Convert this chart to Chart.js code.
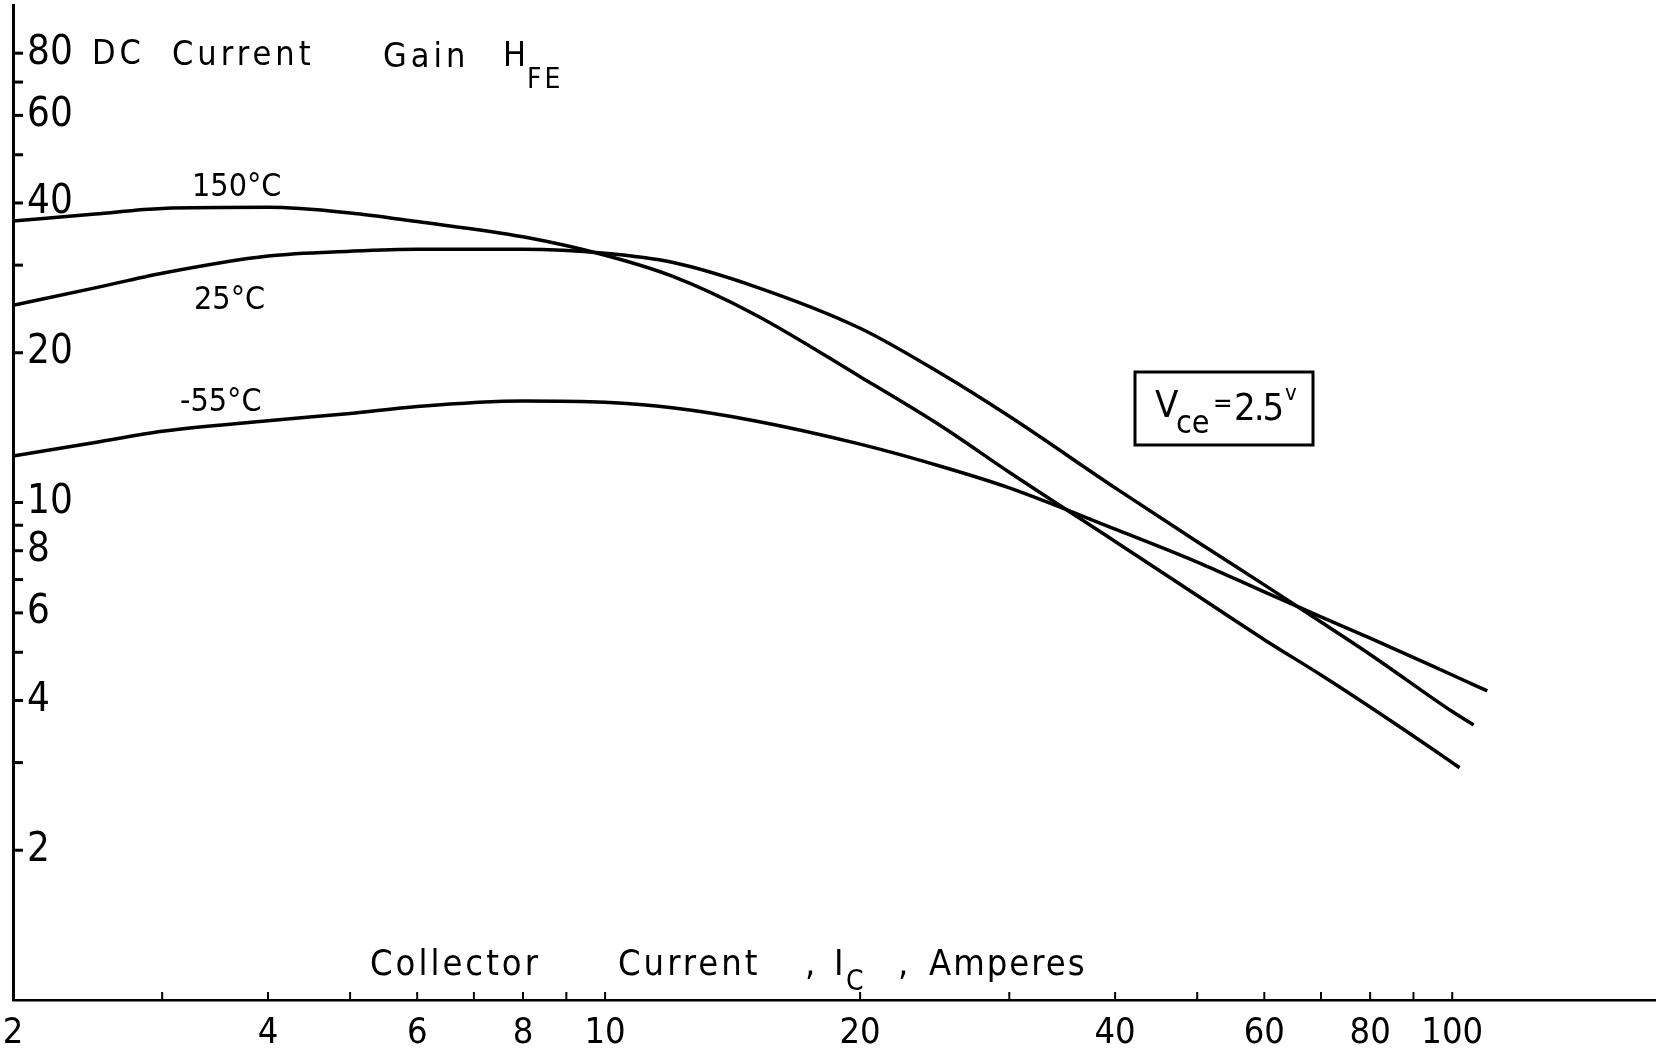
<!DOCTYPE html>
<html>
<head>
<meta charset="utf-8">
<title>DC Current Gain</title>
<script src="https://cdn.jsdelivr.net/npm/chart.js@4.4.1/dist/chart.umd.min.js"></script>
<style>
  html, body { margin: 0; padding: 0; background: #fff; }
  #wrap { width: 1656px; height: 1054px; }
</style>
</head>
<body>
<div id="wrap"><canvas id="hfe" width="1656" height="1054"></canvas></div>
<script>
// collector current (A) vs DC gain, one pair per temperature
const ic150 = [2, 2.5, 3, 4, 5, 6, 8, 10, 12, 15, 20, 25, 30, 40, 50, 60, 70, 80, 100, 102];
const hfe150 = [36.8, 38.0, 39.0, 39.2, 38.2, 36.7, 34.2, 31.4, 28.5, 23.9, 17.9, 14.2, 11.5, 8.35, 6.5, 5.3, 4.5, 3.88, 3.0, 2.93];
const ic25 = [2, 2.5, 3, 4, 5, 6, 8, 10, 12, 15, 20, 25, 30, 40, 50, 60, 70, 80, 100, 106];
const hfe25 = [24.9, 27.0, 28.9, 31.3, 32.0, 32.3, 32.3, 31.7, 30.4, 27.2, 22.4, 18.1, 14.9, 10.7, 8.34, 6.83, 5.75, 4.95, 3.80, 3.57];
const icM55 = [2, 2.5, 3, 4, 5, 6, 8, 10, 12, 15, 20, 25, 30, 40, 50, 60, 70, 80, 100, 110];
const hfeM55 = [12.4, 13.2, 13.9, 14.6, 15.1, 15.6, 16.0, 15.9, 15.5, 14.6, 13.1, 11.8, 10.7, 8.84, 7.59, 6.61, 5.89, 5.34, 4.50, 4.18];

// axis ticks and which of them get a number
const xTicks = [2, 3, 4, 5, 6, 7, 8, 9, 10, 20, 30, 40, 50, 60, 70, 80, 90, 100];
const xLabels = [2, 4, 6, 8, 10, 20, 40, 60, 80, 100];
const yTicks = [2, 3, 4, 5, 6, 7, 8, 9, 10, 20, 30, 40, 50, 60, 70, 80];
const yLabels = [2, 4, 6, 8, 10, 20, 40, 60, 80];

const FONT = '"Liberation Sans Narrow", "DejaVu Sans Condensed", "Liberation Sans", sans-serif';

function series(xs, ys) {
  return {
    data: xs.map((v, i) => ({ x: v, y: ys[i] })),
    borderColor: '#000',
    borderWidth: 3.5,
    pointRadius: 0,
    fill: false,
    cubicInterpolationMode: 'monotone'
  };
}

function write(ctx, str, px, py, size, spacing) {
  ctx.font = size + 'px ' + FONT;
  ctx.letterSpacing = (spacing || 0) + 'px';
  ctx.fillText(str, px, py);
}

// inward tick marks + hand lettering
const handDrawn = {
  id: 'handDrawn',
  afterDraw(chart) {
    const { ctx, scales: { x, y } } = chart;
    ctx.save();
    ctx.strokeStyle = '#000';
    ctx.fillStyle = '#000';

    ctx.lineWidth = 3;
    yTicks.forEach(v => {
      const py = y.getPixelForValue(v);
      ctx.beginPath();
      ctx.moveTo(x.left, py);
      ctx.lineTo(x.left + 10, py);
      ctx.stroke();
    });
    ctx.lineWidth = 2;
    xTicks.forEach(v => {
      if (v === 2) return;
      const px = x.getPixelForValue(v);
      ctx.beginPath();
      ctx.moveTo(px, y.bottom);
      ctx.lineTo(px, y.bottom - 8);
      ctx.stroke();
    });

    ctx.textAlign = 'left';
    ctx.textBaseline = 'alphabetic';

    // y title
    write(ctx, 'DC', 92, 64, 34, 4);
    write(ctx, 'Current', 172, 65, 34, 4);
    write(ctx, 'Gain', 383, 67, 34, 4);
    write(ctx, 'H', 503, 66, 34);
    write(ctx, 'FE', 527, 88, 28, 3);

    // curve labels
    write(ctx, '150°C', 192, 196, 32);
    write(ctx, '25°C', 194, 309, 32);
    write(ctx, '-55°C', 180, 411, 32);

    // x title
    write(ctx, 'Collector', 370, 975, 36, 3);
    write(ctx, 'Current', 618, 975, 36, 3);
    write(ctx, ',', 805, 975, 36);
    write(ctx, 'I', 834, 975, 36);
    write(ctx, 'C', 846, 990, 28);
    write(ctx, ',', 898, 975, 36);
    write(ctx, 'Amperes', 929, 975, 36, 2);

    // test condition box
    ctx.lineWidth = 3;
    ctx.strokeRect(1135, 372, 178, 73);
    write(ctx, 'V', 1155, 417, 38);
    write(ctx, 'ce', 1176, 433, 32);
    write(ctx, '=', 1213, 412, 26);
    write(ctx, '2.5', 1234, 420, 38, -2);
    write(ctx, 'v', 1285, 400, 22);

    ctx.restore();
  }
};

new Chart(document.getElementById('hfe'), {
  type: 'line',
  data: {
    datasets: [series(ic150, hfe150), series(ic25, hfe25), series(icM55, hfeM55)]
  },
  options: {
    responsive: false,
    animation: false,
    devicePixelRatio: 1,
    layout: { padding: { top: 5, left: 0, right: 0, bottom: 0 } },
    plugins: {
      legend: { display: false },
      tooltip: { enabled: false },
      title: { display: false }
    },
    scales: {
      x: {
        type: 'logarithmic',
        position: 'bottom',
        min: 2,
        max: 174,
        bounds: 'data',
        grid: { display: false, drawTicks: false },
        border: { display: true, color: '#000', width: 2.5 },
        afterBuildTicks: s => { s.ticks = xTicks.map(v => ({ value: v })); },
        afterFit: s => { s.height = 54; s.paddingLeft = 0; s.paddingRight = 0; },
        ticks: {
          autoSkip: false,
          maxRotation: 0,
          padding: 12,
          color: '#000',
          font: { family: FONT, size: 36 },
          callback: v => xLabels.includes(v) ? String(v) : ''
        }
      },
      y: {
        type: 'logarithmic',
        position: 'left',
        min: 1,
        max: 100,
        bounds: 'data',
        grid: { display: false, drawTicks: false },
        border: { display: true, color: '#000', width: 3 },
        afterBuildTicks: s => { s.ticks = yTicks.map(v => ({ value: v })); },
        afterFit: s => { s.width = 13; s.paddingTop = 0; s.paddingBottom = 0; },
        ticks: {
          autoSkip: false,
          mirror: true,
          padding: 14,
          color: '#000',
          font: { family: FONT, size: 40 },
          callback: v => yLabels.includes(v) ? String(v) : ''
        }
      }
    }
  },
  plugins: [handDrawn]
});
</script>
</body>
</html>
